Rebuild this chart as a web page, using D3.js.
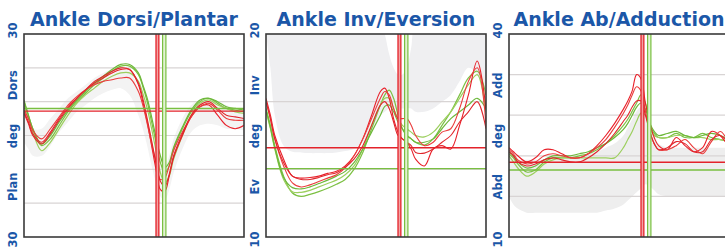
<!DOCTYPE html>
<html>
<head>
<meta charset="utf-8">
<script src="https://cdn.jsdelivr.net/npm/d3@7"></script>
<style>
  body { margin: 0; background: #fff; }
  svg { display: block; }
</style>
</head>
<body>
<div id="chart"></div>
<script>
var width = 725;
var height = 247;
var plotTop = 34;
var plotBottom = 237;
var plotWidth = 220;
var panelLefts = [24, 266, 509];

var blue = "#1b57a8";
var red = "#e3232b";
var green = "#79bf41";

// % of gait cycle
var pct = [0, 2, 4, 8, 12, 16, 20, 24, 28, 32, 36, 40, 44, 48, 52, 54, 56, 58, 60, 62, 64, 66, 68, 72, 76, 80, 84, 88, 92, 96, 100];

// toe-off markers (left = red, right = green)
var toeOffRed = [60, 61.3];
var toeOffGreen = [63, 64.5];

/* Ankle Dorsi/Plantar */
var dorsiTicks = [30, 15, 0, -15, -30];
var dorsiTickText = ["30", "Dors", "deg", "Plan", "30"];
var dorsiGrid = [20, 10, 0, -10, -20];
var dorsiHLines = [7.2, 8.0];
var dorsiRed = [
  [7, 4, 0.5, -2, 1, 5, 8.5, 11, 13.5, 15.5, 17, 18.5, 19.5, 19.5, 15, 10, 4, -3, -10, -16, -16.5, -12, -6.5, 0, 5.5, 8.5, 9, 6, 3, 2, 3],
  [7.5, 5, 1.5, -1, 2, 5.5, 9, 11.5, 13.5, 15, 16, 16.5, 17, 17, 13, 9, 3.5, -2.5, -8, -13, -12.5, -9, -4.5, 1, 5.5, 8.5, 9.5, 7.5, 5, 4.5, 4.5],
  [6.5, 3.5, 0, -2.5, 0.5, 4.5, 8, 11, 13.5, 16, 17.5, 19, 20, 19.5, 15.5, 11, 5, -1.5, -8, -13.5, -15, -11.5, -6, 0.5, 6, 9, 10, 8, 6, 5.5, 5]
];
var dorsiGreen = [
  [10.5, 6, 2, -3, -1, 3, 7, 10, 12.5, 15, 17, 19, 20.5, 20.5, 18, 14.5, 10, 4, -2, -8, -11, -9, -4, 2, 7, 10, 11, 9.5, 8, 7.5, 7],
  [9, 5, 1, -4.5, -2, 2, 6, 9.5, 12, 14, 16, 17.5, 18.5, 18.5, 16, 12.5, 8, 2, -4.5, -11, -14, -12, -7, 0, 6, 9.5, 10.5, 9, 8, 7, 6.5],
  [10, 6, 2, -2.5, 0, 4, 7.5, 10.5, 13, 15.5, 17.5, 19.5, 21, 21, 18.5, 15, 11, 5.5, -0.5, -6, -9.5, -8, -3.5, 2.5, 7.5, 10.5, 11, 10, 8.5, 8, 7.5]
];
var dorsiBandLo = [-2, -4, -6, -6, -3, 1, 4, 7, 9, 11, 12.5, 13.5, 14, 12, 6, 2, -3, -9, -14, -18, -19, -16, -11, -4, 1, 3, 3.5, 3, 2, 2, 1.5];
var dorsiBandHi = [6, 4, 2, 2, 5, 8, 11, 13, 15, 17, 18.5, 19.5, 20, 19, 14, 10, 5, -1, -6, -9, -9, -6, -1, 5, 9, 10.5, 10.5, 10, 9, 8, 8];

/* Ankle Inv/Eversion */
var invTicks = [20, 12.5, 5, -2.5, -10];
var invTickText = ["20", "Inv", "deg", "Ev", "10"];
var invGrid = [10, 0];
var invHLines = [3.2, 0.1];
var invRed = [
  [10.5, 8, 5, 1.5, -1, -1.3, -1.2, -1, -0.6, -0.3, 0.5, 2, 4.5, 8, 11.5, 12, 10.5, 7.5, 5.5, 4.5, 4, 3, 1.5, 0.5, 3, 3.5, 3, 6.5, 11, 16, 9],
  [10, 7.5, 4.5, 0.5, -2, -2.6, -2.3, -1.8, -1.3, -0.8, 0.2, 2, 4.5, 7.5, 10.5, 11.5, 11, 9, 7.5, 7.5, 7.5, 6.5, 5, 3.5, 4, 5.5, 6, 9, 13, 15, 6.5],
  [10, 7.5, 4.5, 1, -1, -1.5, -1.5, -1.2, -0.8, -0.5, 0.3, 1.5, 3.5, 6.5, 9.5, 10, 9, 7, 5, 4.5, 4, 3.5, 2.5, 2.4, 3, 4, 5, 7, 8.5, 10, 6]
];
var invGreen = [
  [9, 6.5, 3.5, -1, -3.5, -4, -3.7, -3.3, -2.8, -2.2, -1.5, 0, 2.5, 6, 9.5, 11, 11.7, 10.5, 8, 6, 5, 4.5, 4, 3.6, 4.5, 6.5, 8.5, 11, 13.5, 14.5, 11],
  [8.5, 6, 3, -1.5, -3.3, -3.4, -3.1, -2.6, -2.1, -1.6, -0.8, 0.5, 3, 6.5, 9.5, 10.5, 10.5, 9, 7.5, 6.5, 6, 5.5, 5, 4.8, 5.5, 7, 8.5, 10.5, 12.5, 14, 8.5],
  [8.8, 6.2, 3.2, -1.2, -2.7, -2.9, -2.6, -2.1, -1.6, -1, -0.3, 1, 3, 5.5, 8, 9.3, 9.5, 8.5, 7, 6, 5, 4.5, 4, 4, 4.5, 6, 7.5, 8.5, 9.5, 10.5, 9]
];
var invBandLo = [20, 15, 8, 3.5, 2.6, 2.5, 2.4, 2.4, 2.4, 2.5, 2.7, 3, 4, 5.5, 8, 8.5, 9, 9, 9, 9, 9, 9, 8.5, 8.5, 9, 10, 11, 13, 15, 14, 11];
var invBandHi = [20, 22, 22, 22, 22, 22, 22, 22, 22, 22, 22, 22, 22, 22, 22, 20, 17, 15, 14, 14, 15, 18, 22, 22, 22, 22, 22, 22, 22, 22, 22];

/* Ankle Ab/Adduction */
var abTicks = [40, 27.5, 15, 2.5, -10];
var abTickText = ["40", "Add", "deg", "Abd", "10"];
var abGrid = [30, 20, 10, 0];
var abHLines = [8.4, 6.5];
var abRed = [
  [12, 11, 10, 8.5, 9.5, 11.5, 11.5, 10.5, 9.5, 9.5, 10.5, 12.5, 15, 18, 21.5, 23.5, 26, 30, 29, 23, 18, 14.5, 12.5, 11.5, 14.5, 12.5, 11, 12, 16, 15, 12],
  [11.5, 10.5, 9, 8, 8.5, 10, 10.5, 10, 9.5, 9.5, 10.5, 12, 14, 17, 20.5, 22.5, 25, 27, 26, 21, 16, 13, 11.5, 11.5, 12.5, 14, 12, 10.5, 13.5, 16, 13],
  [11, 10, 8.5, 7.5, 8, 9, 9.5, 9, 8.5, 8.5, 9.5, 11, 13, 15.5, 18.5, 20, 22, 23.5, 23.5, 20, 16, 13, 11.5, 12, 13.5, 13, 11, 11, 14, 15, 13]
];
var abGreen = [
  [10.5, 9.5, 8, 6, 6.5, 8.5, 9.5, 9.5, 9.5, 10, 10.5, 11.5, 13, 15, 17.5, 19, 21, 23, 25, 23, 18, 15.5, 14.5, 14.5, 15.5, 14.5, 14.5, 15.5, 14.5, 14, 13.5],
  [10, 8.5, 7, 5, 6, 8, 9, 9.5, 9.5, 9.5, 9.5, 9.5, 9.5, 9.5, 12, 14, 16, 18.5, 20.5, 20, 17, 15, 14.5, 14.5, 15, 15, 14.5, 14.5, 14, 14, 13.5],
  [11, 10, 8.5, 7, 7.5, 9, 10, 10, 10, 10.5, 11, 12, 13, 14.5, 16.5, 18, 20, 22, 23, 21.5, 18, 16, 15, 15.5, 16, 15, 14.5, 15, 15.5, 15, 14]
];
var abBandLo = [0, -2, -3, -4, -4, -4, -4, -4, -4, -4, -4, -4, -3.5, -3, -2, -1, 0, 1, 2, 3, 2.5, 1.5, 0.5, 0, 0, 0, 0, 0, 0, 0, 0];
var abBandHi = [10, 9.5, 9, 9, 9, 9, 9, 9, 9.5, 10, 10.5, 11, 12, 13, 15, 17, 19, 21, 22, 21, 18, 15, 13, 12, 12, 12, 12, 12, 12, 12, 12];

var panels = [
  { title: "Ankle Dorsi/Plantar", domain: [-30, 30], ticks: dorsiTicks, tickText: dorsiTickText, grid: dorsiGrid,
    hLines: dorsiHLines, red: dorsiRed, green: dorsiGreen, bandLo: dorsiBandLo, bandHi: dorsiBandHi, bandFill: "#f3f3f3" },
  { title: "Ankle Inv/Eversion", domain: [-10, 20], ticks: invTicks, tickText: invTickText, grid: invGrid,
    hLines: invHLines, red: invRed, green: invGreen, bandLo: invBandLo, bandHi: invBandHi, bandFill: "#efeff1" },
  { title: "Ankle Ab/Adduction", domain: [-10, 40], ticks: abTicks, tickText: abTickText, grid: abGrid,
    hLines: abHLines, red: abRed, green: abGreen, bandLo: abBandLo, bandHi: abBandHi, bandFill: "#eeeeee" }
];

var svg = d3.select("#chart")
  .append("svg")
  .attr("width", width)
  .attr("height", height)
  .style("font-family", "'DejaVu Sans', Verdana, sans-serif");

panels.forEach(function(p, k) {
  var left = panelLefts[k];
  var x = d3.scaleLinear().domain([0, 100]).range([left, left + plotWidth]);
  var y = d3.scaleLinear().domain(p.domain).range([plotBottom, plotTop]);

  var clipId = "clip" + k;
  svg.append("clipPath").attr("id", clipId)
    .append("rect")
    .attr("x", left).attr("y", plotTop)
    .attr("width", plotWidth).attr("height", plotBottom - plotTop);

  var g = svg.append("g");
  var inner = g.append("g").attr("clip-path", "url(#" + clipId + ")");

  /* normal band */
  var area = d3.area()
    .x(function(d, i) { return x(pct[i]); })
    .y0(function(d, i) { return y(p.bandLo[i]); })
    .y1(function(d, i) { return y(p.bandHi[i]); })
    .curve(d3.curveCatmullRom.alpha(0.5));
  inner.append("path")
    .attr("d", area(pct))
    .attr("fill", p.bandFill);

  /* grid */
  inner.selectAll(".grid")
    .data(p.grid)
    .enter()
    .append("line")
    .attr("x1", x(0)).attr("x2", x(100))
    .attr("y1", function(d) { return y(d); })
    .attr("y2", function(d) { return y(d); })
    .attr("stroke", "#d8d4d4")
    .attr("stroke-width", 1.2);

  /* curves */
  var line = d3.line()
    .x(function(d, i) { return x(pct[i]); })
    .y(function(d) { return y(d); })
    .curve(d3.curveCatmullRom.alpha(0.5));

  var greenShades = ["#7cc043", "#9ccf5e", "#6db83a"];
  var redShades = ["#e8202a", "#ea3d3d", "#e0262c"];

  inner.selectAll(".g-line")
    .data(p.green)
    .enter()
    .append("path")
    .attr("d", line)
    .attr("fill", "none")
    .attr("stroke", function(d, i) { return greenShades[i]; })
    .attr("stroke-width", 1.2);

  inner.selectAll(".r-line")
    .data(p.red)
    .enter()
    .append("path")
    .attr("d", line)
    .attr("fill", "none")
    .attr("stroke", function(d, i) { return redShades[i]; })
    .attr("stroke-width", 1.1);

  /* mean lines */
  inner.selectAll(".h-line")
    .data(p.hLines)
    .enter()
    .append("line")
    .attr("x1", x(0)).attr("x2", x(100))
    .attr("y1", function(d) { return y(d); })
    .attr("y2", function(d) { return y(d); })
    .attr("stroke", function(d, i) { return i === 0 ? red : green; })
    .attr("stroke-width", 1.4);

  /* toe off */
  inner.append("rect")
    .attr("x", x(toeOffRed[0])).attr("width", x(toeOffRed[1]) - x(toeOffRed[0]))
    .attr("y", plotTop).attr("height", plotBottom - plotTop)
    .attr("fill", "#f3a3a3");
  inner.append("rect")
    .attr("x", x(toeOffGreen[0])).attr("width", x(toeOffGreen[1]) - x(toeOffGreen[0]))
    .attr("y", plotTop).attr("height", plotBottom - plotTop)
    .attr("fill", "#e3f2d3");
  inner.selectAll(".to-red")
    .data(toeOffRed)
    .enter()
    .append("line")
    .attr("x1", function(d) { return x(d); })
    .attr("x2", function(d) { return x(d); })
    .attr("y1", plotTop).attr("y2", plotBottom)
    .attr("stroke", red)
    .attr("stroke-width", 1.3);
  inner.selectAll(".to-green")
    .data(toeOffGreen)
    .enter()
    .append("line")
    .attr("x1", function(d) { return x(d); })
    .attr("x2", function(d) { return x(d); })
    .attr("y1", plotTop).attr("y2", plotBottom)
    .attr("stroke", green)
    .attr("stroke-width", 1.2);

  /* frame */
  g.append("rect")
    .attr("x", left).attr("y", plotTop)
    .attr("width", plotWidth).attr("height", plotBottom - plotTop)
    .attr("fill", "none")
    .attr("stroke", "#3a3a3a")
    .attr("stroke-width", 1.6);

  /* y labels */
  var yAxis = d3.axisLeft(y)
    .tickValues(p.ticks)
    .tickFormat(function(d, i) { return p.tickText[i]; })
    .tickSize(0)
    .tickPadding(0);
  var ax = g.append("g")
    .attr("transform", "translate(" + (left - 11) + ",0)")
    .call(yAxis);
  ax.select(".domain").remove();
  ax.selectAll("text")
    .attr("transform", "rotate(-90)")
    .attr("x", function(d, i) { return i === 0 ? 4 : (i === p.ticks.length - 1 ? -2 : 0); })
    .attr("dy", "0.36em")
    .attr("text-anchor", "middle")
    .attr("fill", blue)
    .style("font-family", "'DejaVu Sans', Verdana, sans-serif")
    .style("font-weight", "bold")
    .style("font-size", "11.5px");

  /* title */
  g.append("text")
    .attr("x", left + plotWidth / 2)
    .attr("y", 26)
    .attr("text-anchor", "middle")
    .attr("fill", blue)
    .style("font-weight", "bold")
    .style("font-size", "19px")
    .text(p.title);
});
</script>
</body>
</html>
